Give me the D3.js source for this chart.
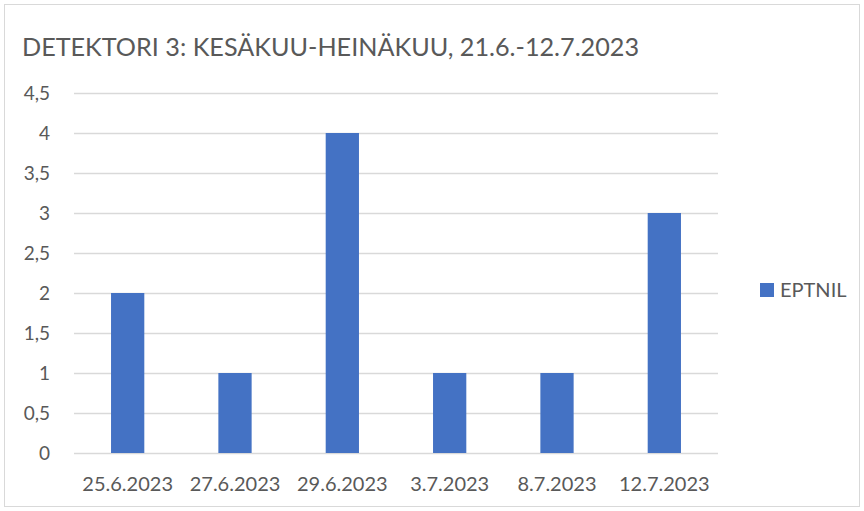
<!DOCTYPE html>
<html>
<head>
<meta charset="utf-8">
<script src="https://cdn.jsdelivr.net/npm/d3@7"></script>
<style>
body { margin: 0; background: #fff; }
text { font-family: Lato, "Open Sans", sans-serif; fill: #595959; }
</style>
</head>
<body>
<svg width="864" height="511"></svg>
<script>

var title = "DETEKTORI 3: KESÄKUU-HEINÄKUU, 21.6.-12.7.2023";
var seriesName = "EPTNIL";
var dates = ["25.6.2023", "27.6.2023", "29.6.2023", "3.7.2023", "8.7.2023", "12.7.2023"];
var counts = [2, 1, 4, 1, 1, 3];
var yTicks = [0, 0.5, 1, 1.5, 2, 2.5, 3, 3.5, 4, 4.5];

var svg = d3.select("svg"),
	width = +svg.attr("width"),
	height = +svg.attr("height");

var margin = {left: 74, right: 146, top: 93, bottom: 58};

// chart frame
svg.append("rect")
	.attr("x", 4.5).attr("y", 4.5)
	.attr("width", width - 9).attr("height", height - 9)
	.attr("fill", "none")
	.attr("stroke", "#d9d9d9");

var x = d3.scaleBand()
	.domain(dates)
	.range([margin.left, width - margin.right])
	.paddingInner(0.69)
	.paddingOuter(0.345);

var y = d3.scaleLinear()
	.domain([0, 4.5])
	.range([height - margin.bottom, margin.top]);

var fmt = function(d) { return String(d).replace(".", ","); };

var yAxis = svg.append("g")
	.attr("transform", "translate(" + margin.left + ",0)")
	.call(d3.axisLeft(y).tickValues(yTicks).tickFormat(fmt)
		.tickSize(-(width - margin.left - margin.right)).tickPadding(24));
yAxis.select(".domain").remove();
yAxis.selectAll("line").attr("stroke", "#d9d9d9").attr("stroke-width", 1.3);
yAxis.selectAll("text").attr("font-size", 19).attr("fill", "#595959")
	.attr("font-family", "Lato, sans-serif");

svg.append("g")
	.selectAll("rect")
	.data(counts)
	.enter().append("rect")
	.attr("x", function(d, i) { return x(dates[i]); })
	.attr("y", function(d) { return y(d); })
	.attr("width", x.bandwidth())
	.attr("height", function(d) { return y(0) - y(d); })
	.attr("fill", "#4472c4");

var xAxis = svg.append("g")
	.attr("transform", "translate(0," + (height - margin.bottom) + ")")
	.call(d3.axisBottom(x).tickSize(0).tickPadding(24));
xAxis.select(".domain").remove();
xAxis.selectAll("text").attr("font-size", 20).attr("fill", "#595959")
	.attr("font-family", "Lato, sans-serif");

svg.append("text")
	.attr("x", 22).attr("y", 56)
	.attr("font-size", 25.2)
	.text(title);

// legend
var legend = svg.append("g").attr("transform", "translate(760,283)");
legend.append("rect").attr("width", 14).attr("height", 14).attr("fill", "#4472c4");
legend.append("text").attr("x", 20).attr("y", 14).attr("font-size", 20).text(seriesName);

</script>
</body>
</html>
